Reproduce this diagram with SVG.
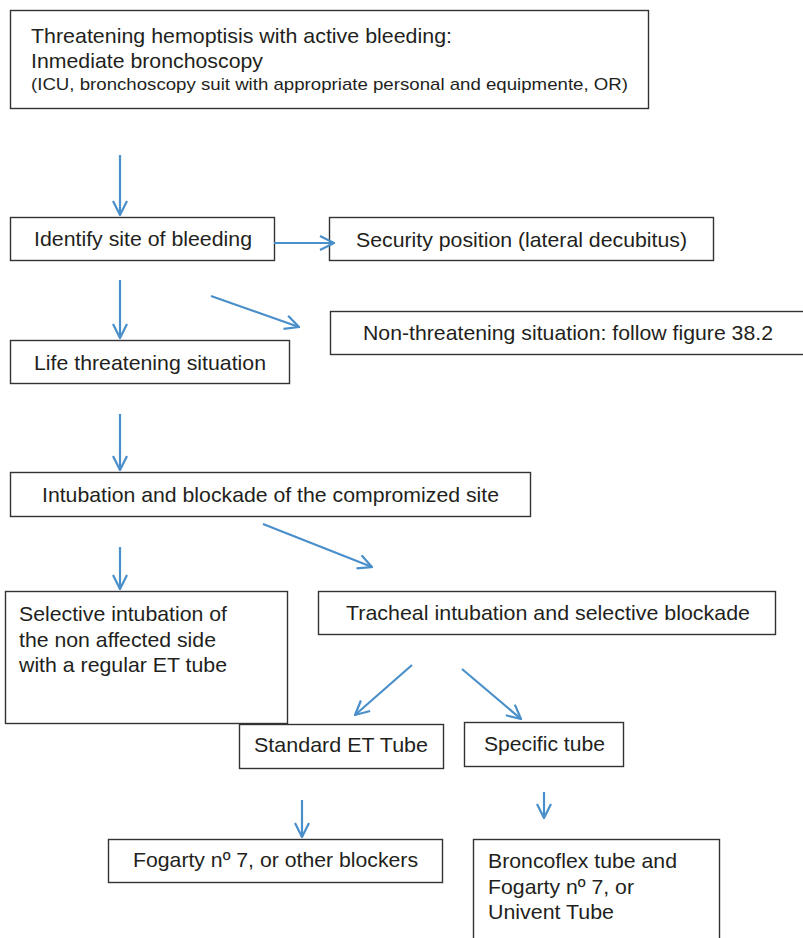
<svg xmlns="http://www.w3.org/2000/svg" width="803" height="938" viewBox="0 0 803 938">
<style>
.box{fill:#fff;stroke:#333;stroke-width:1.4}
.t{font-family:"Liberation Sans",Arial,sans-serif;font-size:21px;fill:#231f20}
.s{font-size:17px}
.c{fill:none;stroke:#4a8fca;stroke-width:2.2;marker-end:url(#ah)}
</style>
<defs>
<marker id="ah" markerUnits="userSpaceOnUse" viewBox="0 0 16 16" markerWidth="16" markerHeight="16" refX="15" refY="8" orient="auto">
<path d="M1,1 L15,8 L1,15" fill="none" stroke="#4a8fca" stroke-width="2.2"/>
</marker>
</defs>
<rect width="803" height="938" fill="#fff"/>
<g id="n-top">
<rect class="box" x="10.5" y="10.5" width="638" height="98"/>
<text class="t" x="31" y="43" textLength="421" lengthAdjust="spacingAndGlyphs">Threatening hemoptisis with active bleeding:</text>
<text class="t" x="31" y="68" textLength="232" lengthAdjust="spacingAndGlyphs">Inmediate bronchoscopy</text>
<text class="t s" x="31" y="90" textLength="597" lengthAdjust="spacingAndGlyphs">(ICU, bronchoscopy suit with appropriate personal and equipmente, OR)</text>
</g>
<g id="n-identify">
<rect class="box" x="10.5" y="217.5" width="264" height="43"/>
<text class="t" x="34" y="246" textLength="218" lengthAdjust="spacingAndGlyphs">Identify site of bleeding</text>
</g>
<g id="n-security">
<rect class="box" x="329.5" y="217.5" width="384" height="43"/>
<text class="t" x="356" y="247" textLength="331" lengthAdjust="spacingAndGlyphs">Security position (lateral decubitus)</text>
</g>
<g id="n-nonthreat">
<rect class="box" x="330.5" y="311.5" width="480" height="43"/>
<text class="t" x="363" y="340" textLength="410" lengthAdjust="spacingAndGlyphs">Non-threatening situation: follow figure 38.2</text>
</g>
<g id="n-life">
<rect class="box" x="10.5" y="340.5" width="279" height="43"/>
<text class="t" x="34" y="370" textLength="232" lengthAdjust="spacingAndGlyphs">Life threatening situation</text>
</g>
<g id="n-intubation">
<rect class="box" x="10.5" y="472.5" width="520" height="44"/>
<text class="t" x="42" y="502" textLength="457" lengthAdjust="spacingAndGlyphs">Intubation and blockade of the compromized site</text>
</g>
<g id="n-selective">
<rect class="box" x="5.5" y="591.5" width="282" height="132"/>
<text class="t" x="19" y="621" textLength="208" lengthAdjust="spacingAndGlyphs">Selective intubation of</text>
<text class="t" x="19" y="647" textLength="197" lengthAdjust="spacingAndGlyphs">the non affected side</text>
<text class="t" x="19" y="672" textLength="208" lengthAdjust="spacingAndGlyphs">with a regular ET tube</text>
</g>
<g id="n-tracheal">
<rect class="box" x="318.5" y="591.5" width="457" height="43"/>
<text class="t" x="346" y="620" textLength="404" lengthAdjust="spacingAndGlyphs">Tracheal intubation and selective blockade</text>
</g>
<g id="n-standard">
<rect class="box" x="239.5" y="724.5" width="204" height="44"/>
<text class="t" x="254" y="752" textLength="174" lengthAdjust="spacingAndGlyphs">Standard ET Tube</text>
</g>
<g id="n-specific">
<rect class="box" x="464.5" y="722.5" width="159" height="44"/>
<text class="t" x="484" y="751" textLength="121" lengthAdjust="spacingAndGlyphs">Specific tube</text>
</g>
<g id="n-fogarty">
<rect class="box" x="108.5" y="839.5" width="334" height="43"/>
<text class="t" x="133" y="867" textLength="285" lengthAdjust="spacingAndGlyphs">Fogarty nº 7, or other blockers</text>
</g>
<g id="n-broncoflex">
<rect class="box" x="473.5" y="839.5" width="246" height="110"/>
<text class="t" x="488" y="868" textLength="189" lengthAdjust="spacingAndGlyphs">Broncoflex tube and</text>
<text class="t" x="488" y="894" textLength="146" lengthAdjust="spacingAndGlyphs">Fogarty nº 7, or</text>
<text class="t" x="488" y="919" textLength="126" lengthAdjust="spacingAndGlyphs">Univent Tube</text>
</g>
<g id="connectors">
<line class="c" x1="120" y1="155" x2="120" y2="215"/>
<line class="c" x1="274" y1="243" x2="334" y2="243"/>
<line class="c" x1="120" y1="280" x2="120" y2="338"/>
<line class="c" x1="211" y1="296" x2="299" y2="327"/>
<line class="c" x1="120" y1="414" x2="120" y2="470"/>
<line class="c" x1="120" y1="547" x2="120" y2="589"/>
<line class="c" x1="263" y1="524" x2="372" y2="567"/>
<line class="c" x1="412" y1="665" x2="355" y2="715"/>
<line class="c" x1="462" y1="669" x2="521" y2="719"/>
<line class="c" x1="302" y1="800" x2="302" y2="837"/>
<line class="c" x1="544" y1="792" x2="544" y2="818"/>
</g>
</svg>
